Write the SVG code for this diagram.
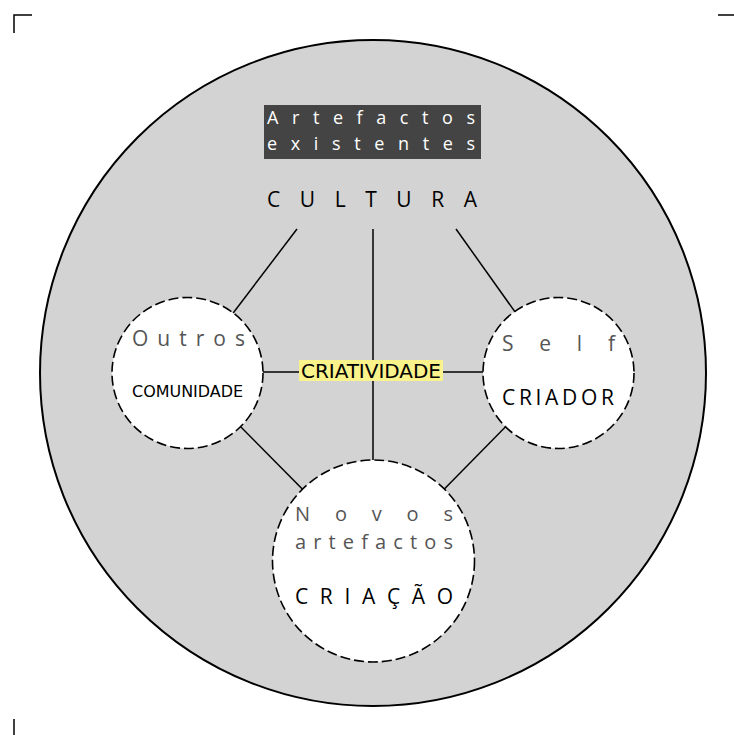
<svg xmlns="http://www.w3.org/2000/svg" width="734" height="735" viewBox="0 0 734 735">
<style>
.mark{stroke:#000;stroke-width:1.5;fill:none}
.con{stroke:#000;stroke-width:1.5;fill:none}
.node{fill:#fff;stroke:#000;stroke-width:1.6;stroke-dasharray:10 4}
.grey{font-family:"Open Sans","DejaVu Sans",sans-serif;fill:#555}
.blk{font-family:"Open Sans","DejaVu Sans",sans-serif;fill:#000}
.tah{font-family:"DejaVu Sans Condensed","DejaVu Sans",sans-serif;fill:#000}
</style>
<rect width="734" height="735" fill="#fff"/>
<g id="corners">
<path class="mark" d="M14 33V15H32"/>
<path class="mark" d="M718 15H734"/>
<path class="mark" d="M14 719V735"/>
</g>
<g id="cultura">
<circle cx="373" cy="373" r="333" fill="#d3d3d3" stroke="#000" stroke-width="2"/>
<rect x="264" y="105" width="217" height="54" fill="#444"/>
<text x="267" y="124" font-size="18" class="blk" fill="#fff" style="fill:#fff" textLength="208" lengthAdjust="spacing">Artefactos</text>
<text x="267" y="150" font-size="18" class="blk" style="fill:#fff" textLength="208" lengthAdjust="spacing">existentes</text>
<text x="267" y="207" font-size="21" class="blk" textLength="210" lengthAdjust="spacing">CULTURA</text>
</g>
<g id="connectors">
<line class="con" x1="297" y1="229" x2="187.5" y2="373"/>
<line class="con" x1="456" y1="229" x2="558.5" y2="373"/>
<line class="con" x1="373" y1="229" x2="373" y2="561"/>
<line class="con" x1="187.5" y1="372" x2="558.5" y2="372"/>
<line class="con" x1="187.5" y1="373" x2="373.5" y2="561"/>
<line class="con" x1="558.5" y1="373" x2="373.5" y2="561"/>
</g>
<g id="criatividade">
<rect x="299" y="360" width="144" height="21" fill="#faf28a"/>
<text x="301" y="378" font-size="19" class="tah" textLength="140" lengthAdjust="spacingAndGlyphs">CRIATIVIDADE</text>
</g>
<g id="outros">
<circle class="node" cx="187.5" cy="373" r="75.5"/>
<text x="132" y="346" font-size="21" class="grey" textLength="113" lengthAdjust="spacing">Outros</text>
<text x="132" y="397" font-size="16" class="tah" textLength="111" lengthAdjust="spacingAndGlyphs">COMUNIDADE</text>
</g>
<g id="self">
<circle class="node" cx="558.5" cy="373" r="75.5"/>
<text x="502" y="351" font-size="21" class="grey" textLength="113" lengthAdjust="spacing">Self</text>
<text x="502" y="405" font-size="21" class="blk" textLength="112" lengthAdjust="spacing">CRIADOR</text>
</g>
<g id="novos">
<circle class="node" cx="373.5" cy="561" r="101"/>
<text x="295" y="521" font-size="20" class="grey" textLength="158" lengthAdjust="spacing">Novos</text>
<text x="295" y="549" font-size="20" class="grey" textLength="158" lengthAdjust="spacing">artefactos</text>
<text x="295" y="604" font-size="21" class="blk" textLength="158" lengthAdjust="spacing">CRIAÇÃO</text>
</g>
</svg>
